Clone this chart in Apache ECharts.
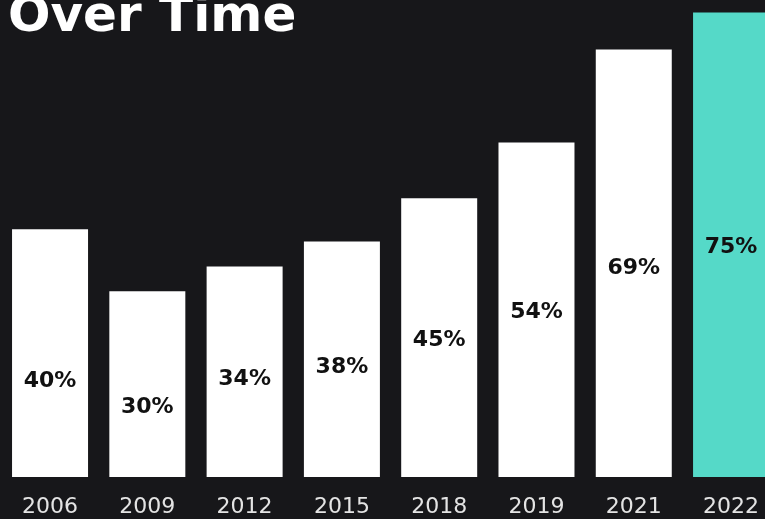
<!DOCTYPE html>
<html><head><meta charset="utf-8">
<script src="https://cdn.jsdelivr.net/npm/echarts@6/dist/echarts.min.js"></script>
<style>html,body{margin:0;padding:0;background:#17171a;}#c{width:765px;height:519px;}</style>
</head><body><div id="c"></div>
<script>
const years = ['2006','2009','2012','2015','2018','2019','2021','2022'];
const values = [40, 30, 34, 38, 45, 54, 69, 75];
const labelOffsetsY = [28, 23, 8, 8, 3, 3, 5, 3];
const titleText = 'Over Time';

const chart = echarts.init(document.getElementById('c'));
chart.setOption({
  backgroundColor: '#17171a',
  animation: false,
  title: {
    text: titleText, left: 3, top: -12,
    textStyle: { color: '#ffffff', fontSize: 50, fontWeight: 'bold', fontFamily: 'DejaVu Sans' }
  },
  grid: { left: 1.4, top: 0, width: 778.3, height: 477, containLabel: false, outerBoundsMode: 'none' },
  xAxis: {
    type: 'category', data: years,
    axisLine: { show: false }, axisTick: { show: false },
    axisLabel: { color: '#e4e4e4', fontSize: 22, fontFamily: 'DejaVu Sans', fontWeight: 'normal', margin: 19 }
  },
  yAxis: { type: 'value', min: 0, max: 77, show: false, splitLine: { show: false } },
  series: [{
    type: 'bar', barWidth: 76,
    data: values.map((v, i) => ({
      value: v,
      itemStyle: { color: i === values.length - 1 ? '#55d9c8' : '#ffffff' },
      label: { offset: [0, labelOffsetsY[i]] }
    })),
    label: {
      show: true, position: 'inside', formatter: '{c}%',
      color: '#111111', fontSize: 22, fontWeight: 'bold', fontFamily: 'DejaVu Sans'
    }
  }]
});
</script></body></html>
